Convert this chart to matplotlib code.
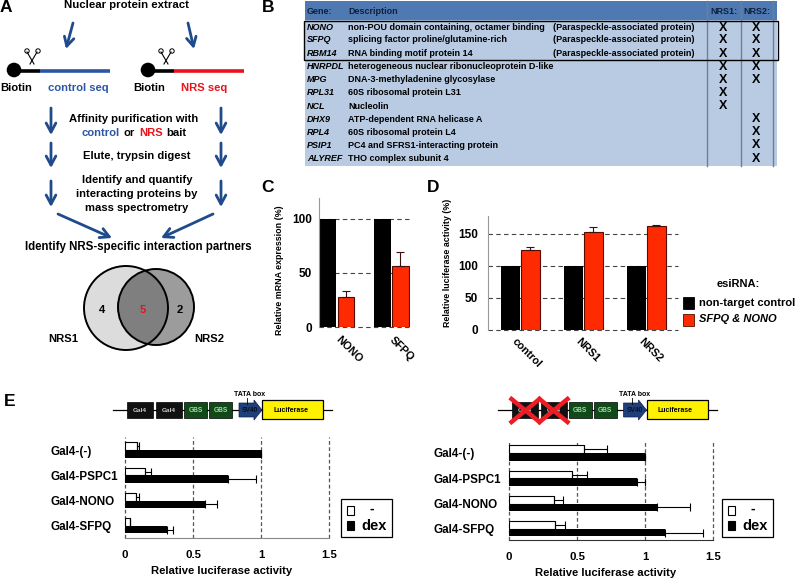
import numpy as np
import matplotlib
matplotlib.use('Agg')
import matplotlib.pyplot as plt
from matplotlib.patches import Circle, Rectangle, Polygon

plt.rcParams['font.family'] = ['Liberation Sans', 'DejaVu Sans']
plt.rcParams['font.weight'] = 'bold'
W, H = 796, 579

# panel B
genes = ['NONO', 'SFPQ', 'RBM14', 'HNRPDL', 'MPG', 'RPL31', 'NCL', 'DHX9', 'RPL4', 'PSIP1', 'ALYREF']
descs = ['non-POU domain containing, octamer binding', 'splicing factor proline/glutamine-rich',
         'RNA binding motif protein 14', 'heterogeneous nuclear ribonucleoprotein D-like',
         'DNA-3-methyladenine glycosylase', '60S ribosomal protein L31', 'Nucleolin',
         'ATP-dependent RNA helicase A', '60S ribosomal protein L4',
         'PC4 and SFRS1-interacting protein', 'THO complex subunit 4']
nrs1_hit = [1, 1, 1, 1, 1, 1, 1, 0, 0, 0, 0]
nrs2_hit = [1, 1, 1, 1, 1, 0, 0, 1, 1, 1, 1]
row_y = [27.7, 40, 53.7, 66.7, 80, 92.7, 106.3, 119, 132.3, 145, 158.7]

# panel C
c_cats = ['NONO', 'SFPQ']
c_ctrl = [100, 100]
c_kd = [28, 56]
c_err = [5.5, 13]

# panel D
d_cats = ['control', 'NRS1', 'NRS2']
d_ctrl = [100, 100, 100]
d_kd = [125, 153, 163]
d_err = [5, 8, 1]

# panel E
e_cats = ['Gal4-(-)', 'Gal4-PSPC1', 'Gal4-NONO', 'Gal4-SFPQ']
e1_minus = [0.09, 0.145, 0.08, 0.04]
e1_minus_err = [0.015, 0.045, 0.02, 0.0]
e1_dex = [1.0, 0.76, 0.59, 0.31]
e1_dex_err = [0.0, 0.20, 0.09, 0.04]
e2_minus = [0.555, 0.465, 0.33, 0.34]
e2_minus_err = [0.165, 0.105, 0.07, 0.07]
e2_dex = [1.0, 0.94, 1.09, 1.15]
e2_dex_err = [0.0, 0.06, 0.24, 0.28]

BLUE = '#1f4a8c'
TEXTBLUE = '#2b55a5'
RED = '#e8141c'
ORANGE = '#ff2a00'

fig = plt.figure(figsize=(W / 100, H / 100), dpi=100)


def px_axes(l, t, r, b):
    return fig.add_axes([l / W, 1 - b / H, (r - l) / W, (b - t) / H])


# overlay in pixel coordinates for the diagrams
ov = fig.add_axes([0, 0, 1, 1], zorder=5)
ov.set_xlim(0, W)
ov.set_ylim(H, 0)
ov.axis('off')
ov.patch.set_alpha(0)


def label(x, y, s, size=8.1, color='black', ha='center', **kw):
    ov.text(x, y, s, fontsize=size, color=color, ha=ha, va='center', fontweight='bold', **kw)


def arrow(x0, y0, x1, y1):
    ov.annotate('', xy=(x1, y1), xytext=(x0, y0),
                arrowprops=dict(arrowstyle='->,head_width=0.35,head_length=0.65', color=BLUE, lw=2.0,
                                shrinkA=0, shrinkB=0))


def scissors(x, y):
    ov.plot([x - 5, x + 2], [y - 5, y + 7], color='black', lw=0.8)
    ov.plot([x + 5, x - 2], [y - 5, y + 7], color='black', lw=0.8)
    ov.add_patch(Circle((x - 5, y - 6), 2.2, fc='white', ec='black', lw=0.7))
    ov.add_patch(Circle((x + 6, y - 6), 2.2, fc='white', ec='black', lw=0.7))


# panel letters
for x, y, s in [(6, 7, 'A'), (268, 7, 'B'), (268, 187, 'C'), (433, 187, 'D'), (10, 402, 'E')]:
    label(x, y, s, size=12.5)

# panel A
label(126, 5, 'Nuclear protein extract', size=8.2)
arrow(73, 23, 66, 49)
arrow(188, 23, 194, 49)
for cx, x_mid, x_end, col in [(14, 40, 110, TEXTBLUE), (148, 174, 244, RED)]:
    ov.plot([cx, x_mid], [70.5, 70.5], color='black', lw=2.6, solid_capstyle='butt')
    ov.plot([x_mid, x_end], [70.5, 70.5], color=col, lw=2.6, solid_capstyle='butt')
    ov.add_patch(Circle((cx, 70), 7.3, fc='black', ec='none'))
scissors(32, 57)
scissors(166, 57)
label(16, 88, 'Biotin')
label(78, 88, 'control seq', color=TEXTBLUE)
label(149, 88, 'Biotin')
label(204, 88, 'NRS seq', color=RED)
for y0, y1 in [(108, 135), (143, 168), (181, 207)]:
    arrow(51, y0, 51, y1)
    arrow(221, y0, 221, y1)
arrow(58, 214, 112, 238)
arrow(213, 214, 161, 238)
label(134, 119, 'Affinity purification with')
label(82, 133, 'control', color=TEXTBLUE, ha='left')
label(124, 133, 'or', ha='left')
label(139, 133, 'NRS', color=RED, ha='left')
label(166, 133, 'bait', ha='left')
label(137, 156, 'Elute, trypsin digest')
label(137, 180, 'Identify and quantify')
label(137, 194, 'interacting proteins by')
label(137, 208, 'mass spectrometry')
label(138, 247, 'Identify NRS-specific interaction partners', size=8.3)

# venn
c1 = Circle((126, 308), 42, fc='#dcdcdc', ec='none')
c2 = Circle((156, 307), 38, fc='#9c9c9c', ec='none')
ov.add_patch(c1)
ov.add_patch(c2)
inter = Circle((156, 307), 38, fc='#7f7f7f', ec='none')
ov.add_patch(inter)
inter.set_clip_path(Circle((126, 308), 42, transform=ov.transData))
ov.add_patch(Circle((126, 308), 42, fc='none', ec='black', lw=1.4))
ov.add_patch(Circle((156, 307), 38, fc='none', ec='black', lw=1.4))
label(102, 310, '4')
label(143, 310, '5', color=RED)
label(180, 310, '2')
label(63, 339, 'NRS1')
label(209, 339, 'NRS2')

# panel B
ov.add_patch(Rectangle((305, 1), 472, 19, fc='#4f79b3', ec='none', zorder=0.5))
ov.add_patch(Rectangle((305, 20), 472, 146, fc='#b8cbe3', ec='none', zorder=0.5))
for x in [707, 741, 773]:
    ov.plot([x, x], [1, 166], color='#6f7f92', lw=1.0, zorder=1)
ov.add_patch(Rectangle((304, 20.5), 473.5, 39.5, fc='none', ec='black', lw=1.0, zorder=2))
label(307, 11, 'Gene:', size=6.5, ha='left', color='#10203a')
label(348, 11, 'Description', size=6.5, ha='left', color='#10203a')
label(724, 11, 'NRS1:', size=6.5, color='#10203a')
label(757, 11, 'NRS2:', size=6.5, color='#10203a')
for i in range(len(genes)):
    label(307, row_y[i], genes[i], size=6.5, ha='left', style='italic')
    label(348, row_y[i], descs[i], size=6.5, ha='left')
    if i < 3:
        label(553, row_y[i], '(Paraspeckle-associated protein)', size=6.5, ha='left')
    if nrs1_hit[i]:
        label(723, row_y[i], 'X', size=9)
    if nrs2_hit[i]:
        label(756, row_y[i], 'X', size=9)


def style_bars(ax):
    ax.set_axisbelow(True)
    ax.grid(axis='y', ls=(0, (4, 3)), color='#444444', lw=0.8)
    for line in ax.get_ygridlines():
        line.set_clip_on(False)
    for s in ['top', 'right']:
        ax.spines[s].set_visible(False)
    ax.spines['left'].set_color('#999999')
    ax.spines['bottom'].set_visible(False)
    ax.tick_params(axis='both', length=0)


# panel C
ax_c = px_axes(319, 198, 410, 327)
xc = np.arange(len(c_cats))
ax_c.bar(xc - 0.165, c_ctrl, 0.3, color='black')
ax_c.bar(xc + 0.165, c_kd, 0.3, color=ORANGE, edgecolor='#5a0a00', lw=0.8,
         yerr=[np.zeros(len(c_err)), c_err], ecolor='#3a1010', error_kw=dict(capsize=3, lw=0.8, capthick=0.8))
ax_c.set_xlim(-0.33, 1.34)
ax_c.set_ylim(0, 119.4)
ax_c.set_yticks([0, 50, 100])
ax_c.set_xticks(xc)
ax_c.set_xticklabels(c_cats, rotation=-45, ha='left', va='center', rotation_mode='anchor', fontsize=7.8)
ax_c.tick_params(axis='x', pad=8)
ax_c.tick_params(axis='y', labelsize=8.5, pad=5)
style_bars(ax_c)
label(279, 270, 'Relative mRNA expression (%)', size=6.4, rotation=90)

# panel D
ax_d = px_axes(488, 216, 678, 330)
xd = np.arange(len(d_cats))
ax_d.bar(xd - 0.155, d_ctrl, 0.295, color='black')
ax_d.bar(xd + 0.155, d_kd, 0.295, color=ORANGE, edgecolor='#5a0a00', lw=0.8,
         yerr=[np.zeros(len(d_err)), d_err], ecolor='#3a1010', error_kw=dict(capsize=3, lw=0.8, capthick=0.8))
ax_d.set_xlim(-0.516, 2.5)
ax_d.set_ylim(0, 178)
ax_d.set_yticks([0, 50, 100, 150])
ax_d.set_xticks(xd - 0.1)
ax_d.set_xticklabels(d_cats, rotation=-45, ha='left', va='center', rotation_mode='anchor', fontsize=7.8)
ax_d.tick_params(axis='x', pad=7)
ax_d.tick_params(axis='y', labelsize=8.5, pad=7)
style_bars(ax_d)
label(447, 263, 'Relative luciferase activity (%)', size=6.4, rotation=90)

# panel D key
label(738, 284, 'esiRNA:', size=8)
ov.add_patch(Rectangle((683, 297), 11, 12, fc='black', ec='black', lw=0.6))
ov.add_patch(Rectangle((683, 314), 11, 12, fc=ORANGE, ec='#5a0a00', lw=0.6))
label(699, 303.5, 'non-target control', size=8, ha='left')
label(699, 319.5, 'SFPQ & NONO', size=8, ha='left', style='italic')


# panel E
def construct(dx, crossed):
    ov.plot([113 + dx, 332 + dx], [410, 410], color='black', lw=0.9, zorder=1)
    for x0, x1 in [(127, 153), (156, 182)]:
        ov.add_patch(Rectangle((x0 + dx, 402), x1 - x0, 16, fc='#111111', ec='black', lw=0.5, zorder=2))
        label((x0 + x1) / 2 + dx, 410, 'Gal4', size=4.6, color='#cccccc', zorder=3)
    for x0, x1 in [(184, 207), (209, 232)]:
        ov.add_patch(Rectangle((x0 + dx, 402), x1 - x0, 16, fc='#0f4a18', ec='black', lw=0.5, zorder=2))
        label((x0 + x1) / 2 + dx, 410, 'GBS', size=4.8, color='#a5d8a5', zorder=3)
    ov.add_patch(Polygon([(239 + dx, 403), (254 + dx, 403), (254 + dx, 400), (262 + dx, 410),
                          (254 + dx, 420), (254 + dx, 417), (239 + dx, 417)],
                         fc='#1f3f7a', ec='#10204a', lw=0.5, zorder=2))
    label(250 + dx, 410, 'SV40', size=4.8, color='#0a1020', zorder=3)
    ov.add_patch(Rectangle((262 + dx, 400), 61, 19, fc='#fff200', ec='black', lw=0.9, zorder=2))
    label(291 + dx, 410, 'Luciferase', size=5, zorder=3)
    label(250 + dx, 394, 'TATA box', size=5)
    ov.plot([247 + dx, 247 + dx], [398, 404], color='black', lw=0.6, zorder=3)
    if crossed:
        for x0, x1 in [(127, 155), (155, 183)]:
            ov.plot([x0 + dx, x1 + dx], [399, 422], color='#ee1c25', lw=3.2, zorder=4)
            ov.plot([x0 + dx, x1 + dx], [422, 399], color='#ee1c25', lw=3.2, zorder=4)


def lucbars(l, t, r, b, y0, minus, minus_err, dex, dex_err, spine_col):
    ax = px_axes(l, t, r, b)
    y = np.arange(len(e_cats))
    cap = dict(capsize=3, lw=0.8, capthick=0.8)
    ax.barh(y - 0.15, minus, 0.3, color='white', edgecolor='black', lw=0.8,
            xerr=[np.zeros(len(minus)), minus_err], ecolor='black', error_kw=cap)
    ax.barh(y + 0.15, dex, 0.3, color='black',
            xerr=[np.zeros(len(dex)), dex_err], ecolor='black', error_kw=cap)
    ax.set_xlim(0, 1.5)
    ax.set_ylim((b - y0) / 25.3, (t - y0) / 25.3)
    ax.set_xticks([0, 0.5, 1, 1.5])
    ax.set_xticklabels(['0', '0.5', '1', '1.5'], fontsize=8.2)
    ax.set_yticks(y)
    ax.set_yticklabels(e_cats, ha='left', fontsize=8.4)
    ax.tick_params(axis='y', length=0, pad=54)
    ax.tick_params(axis='x', length=0, pad=9)
    ax.set_axisbelow(True)
    ax.grid(axis='x', ls=(0, (3, 2)), color='#555555', lw=0.9)
    for line in ax.get_xgridlines():
        line.set_clip_on(False)
    for s in ['top', 'right', 'left']:
        ax.spines[s].set_visible(False)
    ax.spines['bottom'].set_color(spine_col)
    ax.set_xlabel('Relative luciferase activity', fontsize=8.1, fontweight='bold', labelpad=4, x=0.475)
    ax.patch.set_alpha(0)
    return ax


construct(0, False)
construct(384.5, True)
lucbars(125, 437, 329, 538, 450, e1_minus, e1_minus_err, e1_dex, e1_dex_err, '#888888')
lucbars(509, 440, 713, 540, 453, e2_minus, e2_minus_err, e2_dex, e2_dex_err, '#333333')

for dx in [0, 381]:
    ov.add_patch(Rectangle((341 + dx, 499), 51, 38, fc='white', ec='black', lw=0.9))
    ov.add_patch(Rectangle((347 + dx, 506), 7, 9, fc='white', ec='black', lw=0.8))
    ov.add_patch(Rectangle((347 + dx, 521), 7, 9, fc='black', ec='black', lw=0.8))
    label(372 + dx, 509, '-', size=10)
    label(374 + dx, 526, 'dex', size=10.5)

fig.savefig('out.png', dpi=100)
